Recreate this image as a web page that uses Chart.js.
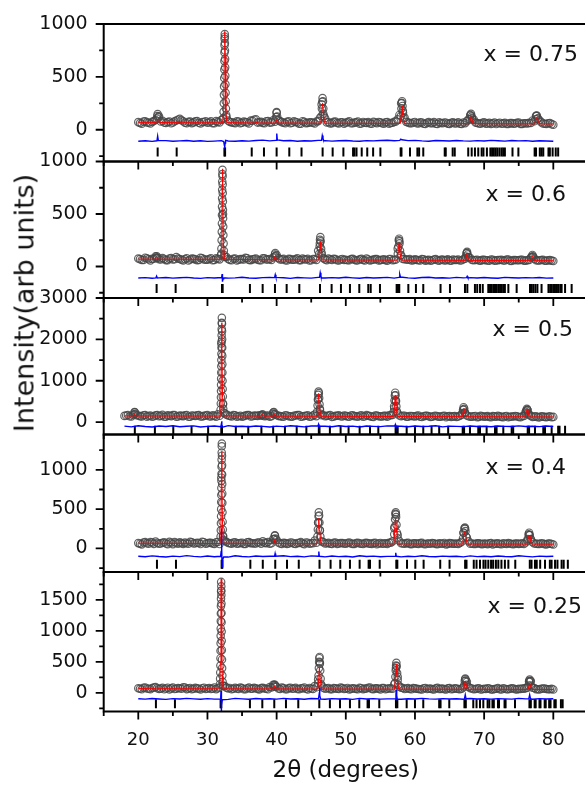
<!DOCTYPE html>
<html>
<head>
<meta charset="utf-8">
<title>XRD refinement</title>
<script src="https://cdn.jsdelivr.net/npm/chart.js@4.4.1/dist/chart.umd.min.js"></script>
<style>
    html, body { margin: 0; padding: 0; background: #fff; overflow: hidden; }
    #page { position: relative; width: 585px; height: 785px; overflow: hidden; }
    #page canvas { position: absolute; left: 0; }
    #yTitle {
        position: absolute; left: 24px; top: 303px;
        transform: translate(-50%, -50%) rotate(-90deg);
        white-space: nowrap; font: 27px "DejaVu Sans"; color: #111;
    }
</style>
</head>
<body>
<div id="page">
    <canvas id="panel0"></canvas>
    <canvas id="panel1"></canvas>
    <canvas id="panel2"></canvas>
    <canvas id="panel3"></canvas>
    <canvas id="panel4"></canvas>
    <div id="yTitle">Intensity(arb units)</div>
</div>
<script>
// ===== DATA =====
// scan grid (2theta, degrees) for the background of the observed pattern: whole and quarter steps
var scanAngles = [18, 18.5, 19, 19.5,
    20, 20.5, 21, 21.5, 22, 22.5, 23, 23.5, 24, 24.5, 25, 25.5, 26, 26.5, 27, 27.5, 28, 28.5, 29, 29.5,
    30, 30.5, 31, 31.5, 32, 32.5, 33, 33.5, 34, 34.5, 35, 35.5, 36, 36.5, 37, 37.5, 38, 38.5, 39, 39.5,
    40, 40.5, 41, 41.5, 42, 42.5, 43, 43.5, 44, 44.5, 45, 45.5, 46, 46.5, 47, 47.5, 48, 48.5, 49, 49.5,
    50, 50.5, 51, 51.5, 52, 52.5, 53, 53.5, 54, 54.5, 55, 55.5, 56, 56.5, 57, 57.5, 58, 58.5, 59, 59.5,
    60, 60.5, 61, 61.5, 62, 62.5, 63, 63.5, 64, 64.5, 65, 65.5, 66, 66.5, 67, 67.5, 68, 68.5, 69, 69.5,
    70, 70.5, 71, 71.5, 72, 72.5, 73, 73.5, 74, 74.5, 75, 75.5, 76, 76.5, 77, 77.5, 78, 78.5, 79, 79.5,
    80];
var scanAnglesMid = [18.25, 18.75, 19.25, 19.75,
    20.25, 20.75, 21.25, 21.75, 22.25, 22.75, 23.25, 23.75, 24.25, 24.75, 25.25, 25.75, 26.25, 26.75, 27.25, 27.75, 28.25, 28.75, 29.25, 29.75,
    30.25, 30.75, 31.25, 31.75, 32.25, 32.75, 33.25, 33.75, 34.25, 34.75, 35.25, 35.75, 36.25, 36.75, 37.25, 37.75, 38.25, 38.75, 39.25, 39.75,
    40.25, 40.75, 41.25, 41.75, 42.25, 42.75, 43.25, 43.75, 44.25, 44.75, 45.25, 45.75, 46.25, 46.75, 47.25, 47.75, 48.25, 48.75, 49.25, 49.75,
    50.25, 50.75, 51.25, 51.75, 52.25, 52.75, 53.25, 53.75, 54.25, 54.75, 55.25, 55.75, 56.25, 56.75, 57.25, 57.75, 58.25, 58.75, 59.25, 59.75,
    60.25, 60.75, 61.25, 61.75, 62.25, 62.75, 63.25, 63.75, 64.25, 64.75, 65.25, 65.75, 66.25, 66.75, 67.25, 67.75, 68.25, 68.75, 69.25, 69.75,
    70.25, 70.75, 71.25, 71.75, 72.25, 72.75, 73.25, 73.75, 74.25, 74.75, 75.25, 75.75, 76.25, 76.75, 77.25, 77.75, 78.25, 78.75, 79.25, 79.75];

// grid for the difference curves
var diffAngles = [18, 19, 20, 21, 22, 23, 24, 25, 26, 27, 28, 29, 30, 31, 32, 33, 34, 35, 36, 37, 38, 39,
    40, 41, 42, 43, 44, 45, 46, 47, 48, 49, 50, 51, 52, 53, 54, 55, 56, 57, 58, 59,
    60, 61, 62, 63, 64, 65, 66, 67, 68, 69, 70, 71, 72, 73, 74, 75, 76, 77, 78, 79, 80];

var panelLabels = ['x = 0.75', 'x = 0.6', 'x = 0.5', 'x = 0.4', 'x = 0.25'];

// ----- x = 0.75 -----
var obs075 = [null, null, null, null,
    72, 58, 81, 66, 75, 92, 128, 85, 64, 78, 69, 88, 104, 80, 62, 77, 70, 83, 59, 74,
    66, 80, 61, 75, 92, 905, 86, 70, 63, 78, 66, 74, 60, 85, 98, 72, 65, 79, 68, 90,
    160, 82, 66, 75, 62, 80, 69, 58, 76, 64, 71, 60, 82, 240, 112, 72, 63, 77, 60, 71,
    66, 79, 62, 70, 58, 74, 65, 60, 76, 63, 70, 57, 72, 64, 75, 98, 250, 115, 70, 61,
    74, 60, 68, 55, 72, 63, 58, 70, 61, 67, 56, 71, 62, 58, 69, 82, 140, 96, 64, 57,
    70, 60, 55, 68, 62, 57, 66, 54, 63, 59, 68, 56, 61, 65, 88, 132, 90, 60, 55, 64,
    48];
var obsMid075 = [null, null, null, null,
    64, 77, 70, 59, 83, 130, 78, 68, 73, 61, 80, 95, 90, 67, 75, 63, 79, 66, 72, 81,
    71, 63, 82, 69, 100, 120, 74, 66, 80, 62, 77, 70, 86, 95, 68, 75, 61, 83, 70, 77,
    90, 72, 61, 79, 67, 74, 58, 81, 63, 70, 66, 78, 110, 150, 69, 60, 75, 64, 71, 58,
    73, 61, 68, 77, 60, 66, 72, 57, 69, 74, 62, 70, 58, 67, 79, 140, 180, 75, 63, 69,
    62, 70, 57, 66, 61, 73, 55, 64, 69, 58, 65, 60, 71, 56, 63, 100, 110, 68, 59, 66,
    58, 65, 61, 54, 67, 60, 56, 63, 58, 66, 55, 62, 59, 64, 80, 105, 72, 57, 62, 53];
var peaks075 = [[22.7, 105], [22.8, 148], [22.9, 118],
    [32.30, 110], [32.33, 170], [32.36, 250], [32.38, 330], [32.40, 410], [32.42, 490], [32.44, 570],
    [32.45, 650], [32.46, 730], [32.47, 800], [32.48, 860], [32.51, 880], [32.52, 820], [32.53, 750],
    [32.55, 670], [32.56, 590], [32.58, 510], [32.60, 430], [32.62, 350], [32.64, 270], [32.67, 200], [32.71, 140],
    [39.92, 120], [40.0, 167], [40.08, 125],
    [46.48, 130], [46.54, 200], [46.6, 265], [46.64, 300], [46.7, 270], [46.75, 200], [46.82, 130],
    [57.96, 130], [58.04, 200], [58.1, 255], [58.14, 270], [58.2, 225], [58.27, 160], [58.34, 110],
    [67.92, 100], [68.02, 135], [68.1, 150], [68.2, 125], [68.3, 95],
    [77.42, 100], [77.55, 130], [77.62, 135], [77.75, 105]];
var calc075 = [[20, 70], [22.6, 69], [22.8, 92], [23.0, 69], [25.8, 67], [26.0, 75], [26.2, 67],
    [32.2, 66], [32.35, 180], [32.43, 700], [32.5, 930], [32.57, 700], [32.65, 180], [32.8, 68],
    [36.8, 64], [37.0, 72], [37.2, 64], [39.85, 64], [40.0, 95], [40.15, 64],
    [46.4, 62], [46.55, 190], [46.65, 252], [46.75, 170], [46.9, 62],
    [57.9, 60], [58.05, 160], [58.15, 222], [58.25, 140], [58.45, 60],
    [67.85, 58], [68.05, 110], [68.12, 125], [68.25, 95], [68.4, 58],
    [77.3, 56], [77.55, 110], [77.65, 122], [77.8, 88], [78.0, 56], [80, 55]];
var diff075 = [null, null, -108, -104, -110, -106, -103, -109, -105, -102, -108, -104, -110, -107, -103, -106, -109, -104, -107, -102, -98, -105,
    -109, -104, -101, -108, -104, -106, -100, -103, -107, -104, -101, -106, -108, -103, -105, -102, -99, -104, -107, -103,
    -100, -105, -108, -102, -104, -106, -101, -105, -107, -103, -106, -100, -104, -107, -102, -105, -103, -108, -104, -106, -109];
var diffPeaks075 = [[22.7, -104], [22.8, -60], [22.9, -102],
    [32.35, -112], [32.45, -150], [32.5, -162], [32.55, -125], [32.62, -100],
    [39.92, -100], [40.02, -35], [40.1, -95],
    [46.5, -100], [46.6, -55], [46.7, -80], [46.8, -104],
    [57.8, -100], [57.95, -88], [58.1, -95]];
var bragg075 = [22.8, 25.55, 32.45, 32.55, 36.4, 38.17, 40.0, 41.83, 43.6, 46.65, 48.1, 49.65, 51.05, 51.25, 51.55,
    52.3, 53.1, 53.95, 55.0, 57.93, 58.05, 59.28, 60.35, 60.6, 61.2, 64.3, 64.45, 65.45, 65.75,
    67.7, 68.2, 68.67, 69.15, 69.64, 69.9, 70.4, 70.9, 71.15, 71.4, 71.65, 71.9, 72.2, 72.5, 72.75, 73.0,
    74.1, 74.95, 77.3, 77.5, 78.05, 78.3, 78.55, 79.3, 79.5, 79.9, 80.35, 80.7];

// ----- x = 0.6 -----
var obs060 = [null, null, null, null,
    76, 62, 84, 69, 73, 96, 70, 80, 61, 75, 67, 90, 71, 58, 79, 66, 73, 60, 82, 68,
    64, 78, 62, 74, 120, 92, 71, 59, 76, 65, 70, 82, 63, 68, 75, 60, 78, 66, 72, 85,
    110, 67, 73, 58, 70, 64, 77, 61, 69, 74, 59, 71, 150, 130, 68, 75, 62, 70, 57, 72,
    65, 60, 73, 58, 69, 62, 75, 57, 66, 70, 61, 68, 56, 72, 63, 170, 110, 70, 64, 58,
    68, 59, 71, 56, 64, 60, 70, 55, 66, 61, 58, 67, 62, 57, 69, 130, 80, 60, 65, 56,
    63, 58, 67, 55, 61, 64, 57, 66, 54, 62, 59, 65, 56, 63, 98, 60, 58, 64, 55, 61,
    52];
var obsMid060 = [null, null, null, null,
    70, 63, 78, 58, 74, 85, 66, 72, 60, 81, 69, 76, 64, 70, 57, 75, 68, 62, 79, 65,
    72, 60, 77, 68, 500, 90, 63, 74, 58, 70, 66, 79, 61, 72, 65, 59, 77, 68, 63, 115,
    80, 68, 59, 73, 64, 70, 61, 75, 66, 58, 72, 63, 220, 80, 61, 69, 74, 60, 67, 63,
    59, 71, 64, 60, 73, 57, 67, 62, 70, 58, 65, 61, 72, 59, 66, 240, 72, 66, 70, 61,
    63, 57, 68, 61, 55, 66, 60, 64, 58, 69, 56, 62, 67, 59, 75, 88, 62, 62, 57, 63,
    60, 55, 64, 58, 62, 57, 66, 54, 61, 59, 63, 56, 60, 85, 75, 57, 62, 55, 60, 56];
var peaks060 = [[22.6, 85], [22.68, 98], [22.75, 80],
    [31.98, 110], [32.02, 170], [32.05, 250], [32.07, 330], [32.09, 410], [32.1, 490], [32.11, 570], [32.12, 650],
    [32.13, 730], [32.14, 810], [32.15, 880], [32.17, 920], [32.19, 860], [32.2, 780], [32.21, 700], [32.23, 620],
    [32.24, 540], [32.26, 460], [32.28, 380], [32.3, 300], [32.33, 220], [32.37, 150], [32.42, 110],
    [39.72, 95], [39.8, 128], [39.88, 100],
    [46.15, 120], [46.22, 190], [46.27, 255], [46.32, 280], [46.37, 240], [46.43, 170], [46.5, 115],
    [57.52, 120], [57.6, 190], [57.66, 250], [57.7, 265], [57.76, 220], [57.84, 150], [57.92, 105],
    [67.35, 95], [67.45, 125], [67.53, 140], [67.62, 115], [67.72, 90],
    [76.85, 90], [76.98, 110], [77.1, 92]];
var calc060 = [[20, 70], [22.5, 69], [22.68, 88], [22.85, 69],
    [32.0, 68], [32.08, 260], [32.13, 780], [32.17, 930], [32.22, 760], [32.3, 230], [32.45, 68],
    [39.65, 64], [39.8, 100], [39.95, 64], [46.1, 63], [46.22, 170], [46.3, 240], [46.4, 160], [46.55, 63],
    [57.45, 60], [57.6, 160], [57.7, 225], [57.8, 150], [58.0, 60],
    [67.3, 58], [67.45, 100], [67.52, 120], [67.62, 90], [67.8, 58],
    [76.8, 56], [76.95, 95], [77.05, 100], [77.2, 56], [80, 55]];
var diff060 = [null, null, -110, -106, -112, -108, -105, -111, -107, -104, -110, -113, -106, -109, -105, -111, -108, -103, -109, -112, -106, -104,
    -110, -107, -113, -105, -108, -111, -104, -109, -106, -110, -103, -108, -112, -105, -109, -107, -104, -111, -106, -108,
    -112, -105, -103, -109, -107, -111, -104, -108, -106, -110, -105, -109, -112, -104, -107, -110, -106, -108, -105, -111, -109];
var diffPeaks060 = [[22.55, -108], [22.65, -92], [22.75, -110],
    [32.05, -105], [32.12, -72], [32.17, -145], [32.25, -118], [32.35, -108],
    [39.7, -106], [39.8, -78], [39.9, -104],
    [46.2, -104], [46.3, -60], [46.4, -92], [46.5, -108],
    [57.7, -104], [57.8, -75], [57.9, -100],
    [67.45, -106], [67.55, -94], [67.65, -108]];
var bragg060 = [22.65, 25.4, 32.1, 32.2, 36.14, 37.98, 39.76, 41.45, 43.28, 46.27, 47.95, 49.3, 50.6, 51.95, 53.25, 53.6,
    54.94, 57.35, 57.55, 57.73, 59.04, 60.14, 61.2, 63.7, 65.06, 67.23, 67.57, 68.67, 69.0, 69.4, 69.8,
    70.6, 70.85, 71.1, 71.35, 71.57, 71.8, 72.05, 72.3, 72.5, 72.75, 73.0, 73.5, 74.7,
    76.63, 76.85, 77.1, 77.4, 77.7, 78.3, 79.3, 79.55, 79.76, 80.0, 80.24, 80.5, 80.7, 81.0, 81.2, 81.7, 82.65];

// ----- x = 0.5 -----
var obs050 = [150, 172, 138, 235,
    160, 135, 170, 148, 128, 162, 140, 175, 133, 152, 168, 130, 158, 145, 170, 128, 155, 162, 138, 150,
    172, 135, 150, 190, 1900, 210, 160, 138, 165, 142, 128, 158, 170, 140, 152, 166, 185, 150, 132, 230,
    170, 145, 128, 160, 138, 155, 172, 130, 148, 162, 135, 180, 560, 165, 140, 158, 126, 150, 167, 135,
    150, 128, 162, 140, 155, 132, 168, 145, 125, 158, 137, 150, 130, 165, 330, 210, 142, 155, 128, 148,
    135, 160, 122, 150, 140, 128, 155, 132, 148, 120, 145, 138, 125, 152, 300, 160, 130, 142, 118, 150,
    128, 145, 120, 138, 150, 125, 140, 118, 135, 148, 122, 140, 250, 180, 125, 138, 115, 132, 120, 140,
    125];
var obsMid050 = [160, 140, 170, 165,
    145, 165, 132, 158, 140, 170, 150, 128, 162, 145, 172, 138, 150, 165, 130, 158, 148, 170, 135, 160,
    140, 162, 130, 155, 430, 180, 148, 168, 132, 155, 145, 170, 138, 158, 150, 165, 140, 160, 145, 190,
    150, 135, 165, 142, 128, 158, 170, 138, 152, 130, 160, 145, 320, 170, 148, 168, 135, 152, 140, 160,
    138, 160, 145, 128, 165, 140, 152, 130, 158, 142, 135, 150, 162, 175, 500, 160, 155, 132, 148, 140,
    150, 128, 142, 155, 125, 148, 138, 130, 152, 140, 126, 145, 135, 180, 220, 140, 132, 148, 125, 140,
    135, 122, 145, 130, 138, 120, 148, 128, 135, 142, 118, 150, 300, 150, 132, 120, 138, 125, 130, 118];
var peaks050 = [[19.4, 190], [19.46, 240], [19.55, 200],
    [31.9, 300], [31.93, 450], [31.95, 600], [31.96, 750], [31.97, 900], [31.98, 1050], [31.99, 1200], [32.0, 1350],
    [32.01, 1500], [32.02, 1650], [32.03, 1800], [32.04, 1950], [32.05, 2100], [32.06, 2250], [32.07, 2400], [32.08, 2520],
    [32.1, 2380], [32.11, 2200], [32.12, 2000], [32.13, 1800], [32.14, 1600], [32.15, 1400], [32.16, 1200], [32.18, 1000],
    [32.2, 800], [32.22, 620], [32.25, 450], [32.28, 320], [32.32, 230],
    [37.8, 160], [37.9, 185], [38.0, 160], [39.5, 200], [39.6, 240], [39.7, 190],
    [45.85, 250], [45.92, 400], [45.97, 540], [46.02, 660], [46.06, 740], [46.1, 700], [46.15, 580], [46.2, 430], [46.27, 290], [46.35, 200],
    [56.9, 240], [56.98, 380], [57.04, 520], [57.09, 640], [57.14, 710], [57.19, 650], [57.25, 520], [57.31, 380], [57.38, 260],
    [66.85, 220], [66.95, 300], [67.03, 360], [67.12, 320], [67.22, 230],
    [76.0, 210], [76.1, 280], [76.18, 320], [76.27, 290], [76.37, 210]];
var calc050 = [[18, 150], [19.3, 148], [19.46, 220], [19.6, 148],
    [31.85, 145], [31.95, 500], [32.02, 1800], [32.06, 2400], [32.1, 1900], [32.18, 600], [32.35, 150],
    [37.75, 145], [37.9, 190], [38.05, 145], [39.45, 143], [39.6, 215], [39.75, 143],
    [45.85, 140], [45.97, 450], [46.05, 690], [46.15, 430], [46.35, 140],
    [56.95, 135], [57.05, 420], [57.14, 650], [57.25, 400], [57.45, 135],
    [66.85, 132], [67.0, 280], [67.06, 330], [67.18, 250], [67.4, 130],
    [75.95, 128], [76.12, 270], [76.2, 300], [76.32, 220], [76.55, 126], [80, 124]];
var diff050 = [-98, -115, -90, -108, -120, -95, -105, -88, -112, -100, -92, -118, -103, -96, -110, -85, -107, -99, -114, -93, -104, -120,
    -97, -109, -90, -102, -116, -94, -106, -100, -111, -89, -105, -98, -117, -95, -103, -110, -92, -106, -99, -113,
    -96, -108, -101, -90, -115, -97, -104, -109, -93, -106, -100, -112, -95, -103, -108, -91, -105, -99, -110, -96, -104];
var diffPeaks050 = [[31.95, -110], [32.02, -40], [32.06, 20], [32.1, -60], [32.18, -120],
    [45.98, -95], [46.06, -55], [46.12, -100], [57.08, -95], [57.16, -60], [57.22, -100]];
var bragg050 = [19.5, 22.4, 25.06, 27.7, 30.1, 32.0, 32.1, 34.1, 35.9, 37.8, 39.5, 41.2, 42.9, 44.3, 46.1, 46.2, 47.7, 49.25,
    50.4, 52.0, 53.5, 54.7, 57.2, 57.35, 57.5, 58.8, 60.0, 61.2, 62.4, 63.5, 64.8, 66.9, 67.1, 67.95, 69.15, 69.4,
    70.36, 71.57, 71.8, 72.77, 73.98, 74.2, 76.3, 76.5, 77.35, 78.55, 78.8, 79.76, 80.7, 80.9, 81.7];

// ----- x = 0.4 -----
var obs040 = [null, null, null, null,
    68, 52, 80, 61, 74, 88, 59, 72, 64, 83, 55, 70, 77, 58, 66, 85, 62, 73, 56, 79,
    65, 71, 58, 82, 900, 95, 70, 60, 78, 64, 73, 57, 80, 66, 62, 75, 90, 68, 59, 120,
    110, 64, 72, 58, 76, 61, 69, 80, 55, 73, 66, 100, 330, 90, 62, 71, 57, 74, 63, 68,
    60, 75, 58, 69, 64, 56, 72, 61, 67, 54, 70, 62, 58, 74, 260, 170, 66, 59, 71, 55,
    66, 58, 71, 54, 62, 69, 57, 64, 60, 52, 68, 59, 63, 70, 200, 140, 61, 56, 65, 58,
    62, 55, 67, 59, 64, 53, 60, 68, 56, 63, 58, 66, 75, 170, 80, 60, 57, 63, 52, 61,
    50];
var obsMid040 = [null, null, null, null,
    60, 75, 66, 82, 58, 70, 64, 78, 55, 72, 80, 61, 68, 74, 59, 77, 65, 70, 83, 60,
    72, 63, 79, 56, 150, 85, 66, 74, 61, 70, 58, 77, 68, 63, 75, 60, 71, 82, 66, 160,
    75, 58, 68, 62, 73, 57, 70, 64, 76, 59, 67, 72, 230, 80, 66, 60, 72, 58, 69, 62,
    70, 62, 57, 73, 60, 68, 64, 58, 71, 63, 59, 66, 72, 90, 430, 95, 62, 68, 57, 64,
    61, 68, 56, 63, 59, 66, 55, 62, 70, 58, 64, 60, 57, 85, 250, 90, 63, 58, 66, 55,
    59, 64, 52, 61, 57, 66, 58, 62, 55, 63, 60, 57, 100, 120, 62, 58, 64, 55, 61, 57];
var peaks040 = [[31.9, 150], [31.93, 230], [31.95, 320], [31.97, 410], [31.98, 500], [31.99, 590], [32.0, 680],
    [32.01, 770], [32.02, 860], [32.03, 950], [32.04, 1040], [32.05, 1130], [32.06, 1220], [32.07, 1300], [32.08, 1335],
    [32.1, 1180], [32.11, 1060], [32.12, 940], [32.13, 820], [32.14, 700], [32.15, 580], [32.17, 460], [32.19, 340],
    [32.22, 240], [32.26, 160], [32.3, 110],
    [39.65, 120], [39.75, 168], [39.85, 125],
    [45.9, 150], [45.96, 240], [46.01, 330], [46.06, 410], [46.1, 460], [46.14, 420], [46.19, 330], [46.25, 230], [46.32, 150],
    [57.0, 180], [57.07, 280], [57.12, 370], [57.17, 440], [57.22, 460], [57.27, 400], [57.33, 300], [57.4, 200], [57.48, 130],
    [66.95, 130], [67.05, 200], [67.15, 255], [67.22, 265], [67.3, 220], [67.4, 150],
    [76.3, 120], [76.42, 180], [76.5, 200], [76.6, 170], [76.72, 115]];
var calc040 = [[20, 66], [31.85, 62], [31.95, 300], [32.02, 900], [32.06, 1235], [32.1, 900], [32.18, 300], [32.3, 66],
    [39.6, 62], [39.75, 120], [39.9, 62], [45.85, 60], [46.0, 250], [46.08, 380], [46.2, 240], [46.4, 60],
    [56.95, 58], [57.1, 280], [57.2, 380], [57.3, 260], [57.55, 58],
    [66.9, 56], [67.1, 190], [67.2, 220], [67.32, 150], [67.55, 56],
    [76.2, 55], [76.42, 150], [76.5, 170], [76.62, 120], [76.85, 55], [80, 54]];
var diff040 = [null, null, -100, -106, -95, -103, -109, -98, -104, -92, -101, -107, -97, -105, -99, -110, -94, -102, -108, -96, -103, -100,
    -106, -93, -104, -99, -108, -95, -102, -107, -97, -104, -100, -109, -94, -103, -98, -105, -101, -96, -107, -99,
    -104, -93, -102, -106, -98, -103, -100, -108, -95, -104, -99, -106, -97, -102, -105, -94, -101, -107, -98, -103, -100];
var diffPeaks040 = [[31.9, -100], [31.98, -40], [32.02, 100], [32.05, 256], [32.08, 50], [32.11, -233], [32.16, -190],
    [32.24, -140], [32.35, -110], [39.7, -100], [39.78, -65], [39.86, -100],
    [46.03, -100], [46.1, -40], [46.17, -100], [57.15, -100], [57.22, -55], [57.3, -100]];
var bragg040 = [22.7, 25.45, 32.05, 32.15, 36.2, 38.0, 39.8, 41.5, 43.2, 46.2, 47.8, 49.2, 50.6, 52.0, 53.3, 53.5, 54.9,
    57.3, 57.45, 58.85, 60.05, 61.25, 63.65, 65.0, 67.25, 67.45, 68.5, 68.9, 69.4, 69.9, 70.2, 70.6, 71.0, 71.3,
    71.7, 72.05, 72.5, 73.0, 73.5, 74.5, 76.6, 76.85, 77.35, 77.6, 78.1, 78.8, 79.5, 79.75, 80.25, 80.6, 81.2, 81.5, 82.1];

// ----- x = 0.25 -----
var obs025 = [null, null, null, null,
    74, 58, 88, 66, 79, 95, 63, 82, 70, 57, 86, 68, 75, 92, 61, 80, 67, 73, 55, 84,
    70, 62, 88, 76, 1650, 110, 72, 59, 83, 65, 78, 60, 86, 69, 74, 57, 81, 66, 95, 130,
    100, 63, 78, 58, 84, 70, 62, 75, 88, 57, 71, 110, 220, 115, 66, 80, 59, 73, 64, 77,
    68, 55, 76, 63, 81, 59, 70, 86, 61, 74, 57, 79, 66, 72, 140, 260, 85, 62, 77, 58,
    73, 64, 56, 80, 67, 59, 75, 62, 70, 55, 78, 63, 69, 58, 90, 180, 76, 60, 71, 54,
    66, 73, 57, 62, 79, 55, 68, 60, 74, 58, 65, 71, 77, 190, 82, 61, 56, 70, 63, 59,
    56];
var obsMid025 = [null, null, null, null,
    66, 81, 72, 60, 88, 76, 69, 58, 84, 73, 62, 79, 66, 87, 71, 59, 82, 68, 76, 64,
    78, 69, 61, 90, 110, 85, 80, 66, 71, 87, 60, 75, 68, 82, 63, 77, 70, 58, 86, 125,
    72, 85, 60, 77, 66, 82, 59, 73, 68, 80, 63, 90, 470, 85, 74, 61, 78, 67, 85, 62,
    80, 65, 71, 58, 76, 69, 84, 62, 73, 67, 79, 60, 75, 68, 400, 100, 80, 71, 63, 78,
    67, 59, 74, 62, 70, 57, 81, 65, 60, 73, 58, 76, 64, 69, 220, 95, 72, 62, 74, 60,
    63, 72, 56, 68, 60, 75, 58, 66, 71, 57, 64, 69, 85, 190, 78, 59, 66, 72, 58, 65];
var peaks025 = [[31.8, 140], [31.83, 230], [31.85, 330], [31.87, 440], [31.88, 560], [31.89, 680], [31.9, 800],
    [31.91, 920], [31.92, 1040], [31.93, 1160], [31.94, 1280], [31.95, 1400], [31.96, 1520], [31.97, 1640], [31.98, 1790],
    [32.0, 1720], [32.01, 1580], [32.02, 1440], [32.03, 1290], [32.04, 1140], [32.05, 990], [32.06, 840], [32.08, 690],
    [32.1, 540], [32.12, 400], [32.15, 280], [32.19, 180], [32.24, 120],
    [39.6, 100], [39.7, 135], [39.8, 105],
    [46.0, 160], [46.06, 280], [46.11, 400], [46.15, 500], [46.18, 560], [46.21, 580], [46.25, 490], [46.3, 360], [46.36, 230], [46.43, 140],
    [57.1, 160], [57.17, 260], [57.22, 360], [57.27, 440], [57.31, 485], [57.36, 430], [57.42, 320], [57.5, 210], [57.58, 130],
    [67.1, 120], [67.2, 190], [67.28, 230], [67.36, 200], [67.46, 130],
    [76.4, 120], [76.5, 180], [76.58, 215], [76.66, 190], [76.76, 120]];
var calc025 = [[20, 70], [22.4, 68], [22.55, 85], [22.7, 68],
    [31.75, 66], [31.88, 500], [31.95, 1600], [31.99, 1840], [32.03, 1450], [32.1, 500], [32.25, 66],
    [39.55, 64], [39.7, 110], [39.85, 64], [45.95, 62], [46.1, 250], [46.18, 405], [46.28, 220], [46.5, 62],
    [57.05, 60], [57.2, 300], [57.3, 460], [57.4, 270], [57.65, 60],
    [67.05, 58], [67.2, 150], [67.28, 190], [67.4, 130], [67.6, 58],
    [76.35, 56], [76.5, 130], [76.58, 160], [76.7, 110], [76.9, 56], [80, 55]];
var diff025 = [null, null, -95, -101, -90, -98, -104, -92, -99, -88, -96, -102, -93, -100, -94, -105, -89, -97, -103, -91, -98, -95,
    -101, -88, -99, -94, -103, -90, -97, -102, -92, -99, -95, -104, -89, -98, -93, -100, -96, -91, -102, -94,
    -99, -88, -97, -101, -93, -98, -95, -103, -90, -99, -94, -101, -92, -97, -100, -89, -96, -102, -93, -98, -95];
var diffPeaks025 = [[31.85, -100], [31.92, -60], [31.96, 30], [31.99, -150], [32.02, -330], [32.06, -200], [32.15, -110],
    [46.05, -95], [46.15, -20], [46.2, 78], [46.26, -40], [46.36, -100],
    [57.15, -95], [57.25, -20], [57.3, 45], [57.36, -40], [57.45, -110], [57.55, -100],
    [67.15, -95], [67.27, -30], [67.38, -95], [76.45, -95], [76.58, -30], [76.7, -95]];
var bragg025 = [22.55, 25.3, 31.9, 32.0, 36.14, 37.93, 39.66, 41.35, 43.13, 46.17, 47.7, 49.16, 50.6, 51.95, 53.15, 53.35,
    54.84, 57.25, 57.45, 58.8, 60.0, 61.2, 63.5, 63.7, 64.96, 67.15, 67.35, 68.43, 68.9, 69.4, 69.88, 70.5, 70.75,
    71.2, 71.4, 72.0, 72.15, 72.95, 73.1, 74.46, 76.55, 76.75, 77.3, 77.45, 78.0, 78.15, 78.75, 78.9, 79.4, 79.6,
    80.15, 80.35, 81.1, 81.35];

// level (counts) where the reflection markers sit in each panel
var braggLevel = [-210, -210, -200, -200, -175];

// ===== AXES =====
var xMajorTicks = [20, 30, 40, 50, 60, 70, 80];
var xMinorTicks = [15, 25, 35, 45, 55, 65, 75, 85];
var yMin = [-300, -300, -300, -300, -300];
var yMax = [1000, 1000, 3000, 1450, 1950];
var yMajorTicks = [[0, 500, 1000], [0, 500, 1000], [0, 1000, 2000, 3000], [0, 500, 1000], [0, 500, 1000, 1500]];
var yMinorTicks = [[-250, 250, 750], [-250, 250, 750], [500, 1500, 2500], [-250, 250, 750, 1250], [-250, 250, 750, 1250, 1750]];

// ===== LAYOUT (page pixels) =====
var panelTops = [24, 161.5, 298, 434.5, 572];
var plotBottom = 711.5;
var plotLeft = 103.7;
var plotRight = 587.9;
var canvasWidth = 600;
var labelRight = [578, 566, 573, 566, 582];
var labelDy = [31, 33.5, 32, 34, 35];

var panels = [
    { obs: obs075, obsMid: obsMid075, peaks: peaks075, calc: calc075, diff: diff075, diffPeaks: diffPeaks075, bragg: bragg075 },
    { obs: obs060, obsMid: obsMid060, peaks: peaks060, calc: calc060, diff: diff060, diffPeaks: diffPeaks060, bragg: bragg060 },
    { obs: obs050, obsMid: obsMid050, peaks: peaks050, calc: calc050, diff: diff050, diffPeaks: diffPeaks050, bragg: bragg050 },
    { obs: obs040, obsMid: obsMid040, peaks: peaks040, calc: calc040, diff: diff040, diffPeaks: diffPeaks040, bragg: bragg040 },
    { obs: obs025, obsMid: obsMid025, peaks: peaks025, calc: calc025, diff: diff025, diffPeaks: diffPeaks025, bragg: bragg025 }
];

// ===== HELPERS =====
function gridPoints(angles, counts) {
    var pts = [];
    for (var i = 0; i < angles.length; i++) {
        if (counts[i] !== null) pts.push({ x: angles[i], y: counts[i] });
    }
    return pts;
}

function pairPoints(pairs) {
    return pairs.map(function(p) { return { x: p[0], y: p[1] }; });
}

// difference curve: grid values, with the sharp features around reflections put in
function diffPoints(angles, counts, extra) {
    var pts = pairPoints(extra);
    for (var i = 0; i < angles.length; i++) {
        if (counts[i] === null) continue;
        var near = extra.some(function(p) { return Math.abs(p[0] - angles[i]) < 0.15; });
        if (!near) pts.push({ x: angles[i], y: counts[i] });
    }
    pts.sort(function(a, b) { return a.x - b.x; });
    return pts;
}

// ===== FRAME / TICK MARKS / PANEL LABEL =====
var panelFrame = {
    id: 'panelFrame',
    afterDraw: function(chart, args, opts) {
        var i = opts.index;
        var ctx = chart.ctx;
        var area = chart.chartArea;
        var xs = chart.scales.x;
        var ys = chart.scales.y;

        ctx.save();
        ctx.strokeStyle = '#000';
        ctx.lineWidth = 1.8;
        ctx.beginPath();
        xMajorTicks.forEach(function(v) {
            var px = xs.getPixelForValue(v);
            ctx.moveTo(px, area.bottom);
            ctx.lineTo(px, area.bottom + 8);
        });
        xMinorTicks.forEach(function(v) {
            var px = xs.getPixelForValue(v);
            ctx.moveTo(px, area.bottom);
            ctx.lineTo(px, area.bottom + 4.5);
        });
        yMajorTicks[i].forEach(function(v) {
            var py = ys.getPixelForValue(v);
            ctx.moveTo(area.left - 8, py);
            ctx.lineTo(area.left, py);
        });
        yMinorTicks[i].forEach(function(v) {
            var py = ys.getPixelForValue(v);
            ctx.moveTo(area.left - 4.5, py);
            ctx.lineTo(area.left, py);
        });
        ctx.stroke();

        ctx.lineWidth = 2;
        ctx.strokeRect(area.left, area.top, area.right - area.left, area.bottom - area.top);

        ctx.fillStyle = '#111';
        ctx.font = '22px "DejaVu Sans"';
        ctx.textAlign = 'right';
        ctx.textBaseline = 'middle';
        ctx.fillText(panelLabels[i], labelRight[i], area.top + labelDy[i]);
        ctx.restore();
    }
};

// ===== BUILD ONE PANEL =====
function makePanel(i) {
    var p = panels[i];
    var isLast = (i === panels.length - 1);
    var top = panelTops[i];
    var bottom = isLast ? plotBottom : panelTops[i + 1];
    var canvasTop = Math.floor(top) - 14;
    var canvasHeight = isLast ? 785 - canvasTop : Math.ceil(bottom) + 14 - canvasTop;

    var canvas = document.getElementById('panel' + i);
    canvas.width = canvasWidth;
    canvas.height = canvasHeight;
    canvas.style.top = canvasTop + 'px';
    canvas.style.width = canvasWidth + 'px';
    canvas.style.height = canvasHeight + 'px';

    var braggPts = p.bragg.map(function(a) { return { x: a, y: braggLevel[i] }; });
    var obsPts = gridPoints(scanAngles, p.obs)
        .concat(gridPoints(scanAnglesMid, p.obsMid))
        .concat(pairPoints(p.peaks));

    return new Chart(canvas, {
        type: 'scatter',
        data: {
            datasets: [{
                label: 'Calculated',
                data: pairPoints(p.calc),
                showLine: true,
                borderColor: '#ff0000',
                borderWidth: 1,
                pointRadius: 0
            }, {
                label: 'Difference',
                data: diffPoints(diffAngles, p.diff, p.diffPeaks),
                showLine: true,
                borderColor: '#0000ff',
                borderWidth: 1.4,
                pointRadius: 0
            }, {
                label: 'Bragg positions',
                data: braggPts,
                pointStyle: 'line',
                rotation: 90,
                pointRadius: 4.5,
                borderColor: '#000',
                borderWidth: 2
            }, {
                label: 'Observed',
                data: obsPts,
                pointStyle: 'circle',
                pointRadius: 3.7,
                borderWidth: 1.2,
                borderColor: 'rgba(70, 70, 70, 0.85)',
                backgroundColor: 'rgba(0, 0, 0, 0)'
            }]
        },
        options: {
            responsive: false,
            animation: false,
            devicePixelRatio: 1,
            layout: {
                padding: {
                    top: top - canvasTop,
                    bottom: isLast ? 0 : canvasTop + canvasHeight - bottom,
                    left: 0,
                    right: canvasWidth - plotRight
                }
            },
            plugins: {
                legend: { display: false },
                tooltip: { enabled: false },
                panelFrame: { index: i }
            },
            scales: {
                x: {
                    type: 'linear',
                    min: 15,
                    max: 85,
                    display: isLast,
                    afterFit: function(scale) {
                        if (isLast) scale.height = 785 - plotBottom;
                    },
                    afterBuildTicks: function(scale) {
                        scale.ticks = xMajorTicks.map(function(v) { return { value: v }; });
                    },
                    grid: { display: false, drawTicks: false },
                    border: { display: false },
                    ticks: {
                        padding: 18,
                        color: '#111',
                        font: { family: 'DejaVu Sans', size: 18 },
                        callback: function(value) { return String(value); }
                    },
                    title: {
                        display: true,
                        text: '2θ (degrees)',
                        color: '#111',
                        padding: { top: 0, bottom: 0 },
                        font: { family: 'DejaVu Sans', size: 23 }
                    }
                },
                y: {
                    min: yMin[i],
                    max: yMax[i],
                    afterFit: function(scale) {
                        // fixed axis width; labels may overhang into the canvas margin
                        scale.width = plotLeft;
                        scale.paddingTop = 0;
                        scale.paddingBottom = 0;
                    },
                    afterBuildTicks: function(scale) {
                        scale.ticks = yMajorTicks[i].map(function(v) { return { value: v }; });
                    },
                    grid: { display: false, drawTicks: false },
                    border: { display: false },
                    ticks: {
                        padding: 16,
                        color: '#111',
                        font: { family: 'DejaVu Sans', size: 19 },
                        callback: function(value) { return String(value); }
                    }
                }
            }
        },
        plugins: [panelFrame]
    });
}

// ===== INITIALIZE =====
for (var k = 0; k < panels.length; k++) {
    makePanel(k);
}
</script>
</body>
</html>
